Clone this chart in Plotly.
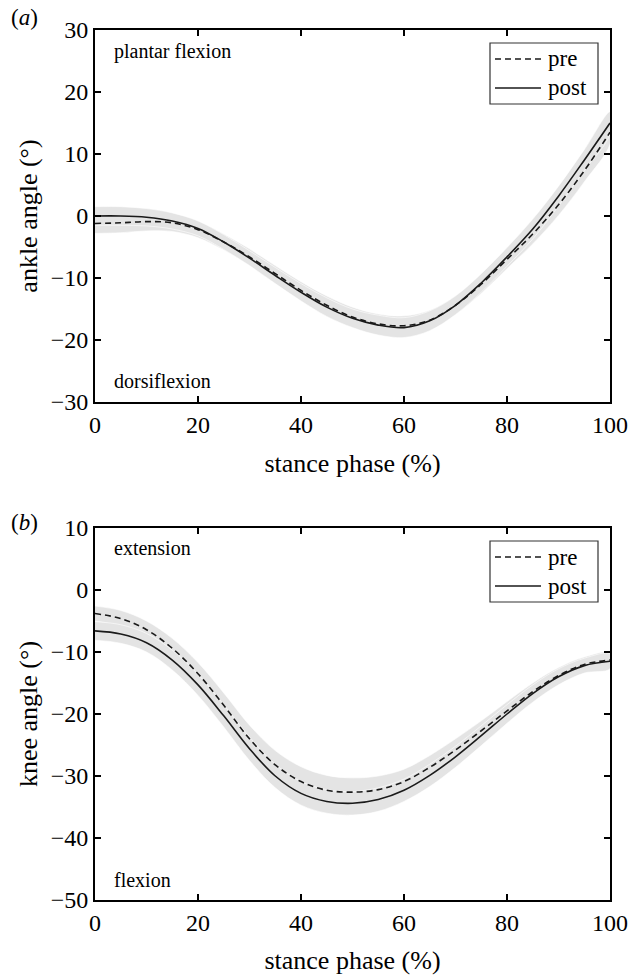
import plotly.graph_objects as go

stance = [0, 5, 10, 15, 20, 25, 30, 35, 40, 45, 50, 55, 60, 65, 70, 75, 80, 85, 90, 95, 100]

ankle_pre = [-1.2, -1.1, -0.9, -1.1, -2.2, -4.2, -6.6, -9.3, -12.0, -14.4, -16.3, -17.4, -17.7,
             -16.8, -14.4, -11.0, -7.0, -2.9, 1.8, 7.3, 13.5]
ankle_post = [0.0, 0.0, -0.2, -0.8, -2.0, -4.2, -6.8, -9.6, -12.3, -14.7, -16.5, -17.6, -18.0,
              -16.9, -14.4, -10.8, -6.6, -2.1, 3.2, 9.0, 15.0]
ankle_pre_sd = [1.6, 1.6, 1.5, 1.4, 1.3, 1.3, 1.3, 1.3, 1.4, 1.5, 1.6, 1.6, 1.6,
                1.6, 1.5, 1.5, 1.5, 1.6, 1.7, 1.8, 1.9]
ankle_post_sd = [1.5, 1.5, 1.4, 1.3, 1.2, 1.2, 1.2, 1.3, 1.4, 1.5, 1.5, 1.6, 1.6,
                 1.6, 1.5, 1.5, 1.5, 1.6, 1.6, 1.7, 1.8]

knee_pre = [-3.8, -4.6, -6.4, -9.4, -13.5, -18.6, -24.0, -28.2, -30.9, -32.3, -32.6, -32.2, -30.9,
            -28.6, -25.8, -22.7, -19.5, -16.4, -13.8, -12.0, -11.3]
knee_post = [-6.6, -7.1, -8.5, -11.3, -15.3, -20.3, -25.6, -30.0, -32.8, -34.1, -34.4, -33.8, -32.3,
             -29.9, -26.9, -23.5, -20.0, -16.7, -14.0, -12.2, -11.5]
knee_pre_sd = [1.2, 1.3, 1.4, 1.6, 1.8, 2.0, 2.2, 2.3, 2.4, 2.4, 2.3, 2.2, 2.0,
               1.9, 1.8, 1.6, 1.5, 1.4, 1.3, 1.2, 1.2]
knee_post_sd = [1.5, 1.5, 1.5, 1.6, 1.7, 1.8, 1.9, 1.9, 1.9, 1.9, 1.9, 1.9, 1.8,
                1.8, 1.7, 1.6, 1.5, 1.4, 1.3, 1.2, 1.2]

x_ticks = [0, 20, 40, 60, 80, 100]
ankle_ticks = [-30, -20, -10, 0, 10, 20, 30]
knee_ticks = [-50, -40, -30, -20, -10, 0, 10]
series_names = ["pre", "post"]

FONT = "Liberation Serif"
BAND = "#e4e4e4"
LINE = "#1a1a1a"
DASH = "6px,4px"

# plot area in pixels
PL, PR, PT, PB = 95, 610, 30, 900
PW, PH = PR - PL, PB - PT


def px(x):
    return (x - PL) / PW


def py(y):
    return (PB - y) / PH


fig = go.Figure()


def add_panel(fig, xa, ya, pre, post, pre_sd, post_sd):
    for mean, sd in ((pre, pre_sd), (post, post_sd)):
        up = [m + s for m, s in zip(mean, sd)]
        lo = [m - s for m, s in zip(mean, sd)]
        fig.add_trace(go.Scatter(
            x=stance + stance[::-1], y=up + lo[::-1], fill="toself",
            fillcolor=BAND, line=dict(color="white", width=0.6, shape="spline"),
            mode="lines", hoverinfo="skip", showlegend=False, xaxis=xa, yaxis=ya))
    fig.add_trace(go.Scatter(x=stance, y=pre, mode="lines", name=series_names[0],
                             line=dict(color=LINE, width=1.6, dash=DASH, shape="spline"),
                             xaxis=xa, yaxis=ya, showlegend=False))
    fig.add_trace(go.Scatter(x=stance, y=post, mode="lines", name=series_names[1],
                             line=dict(color=LINE, width=1.6, shape="spline"),
                             xaxis=xa, yaxis=ya, showlegend=False))


add_panel(fig, "x", "y", ankle_pre, ankle_post, ankle_pre_sd, ankle_post_sd)
add_panel(fig, "x2", "y2", knee_pre, knee_post, knee_pre_sd, knee_post_sd)

axis_common = dict(showline=True, linecolor="black", linewidth=1.8, mirror="ticks",
                   ticks="inside", ticklen=6, tickwidth=1.6, tickcolor="black",
                   showgrid=False, zeroline=False, automargin=False,
                   tickfont=dict(family=FONT, size=24, color="black"))
title_font = dict(family=FONT, size=26, color="black")

fig.update_layout(
    width=629, height=975,
    margin=dict(l=PL, r=629 - PR, t=PT, b=975 - PB, pad=0),
    paper_bgcolor="white", plot_bgcolor="white",
    showlegend=False,
    xaxis=dict(domain=[0, 1], range=[0, 100], tickvals=x_ticks, anchor="y",
               title=dict(text="stance phase (%)", font=title_font, standoff=17),
               **axis_common),
    yaxis=dict(domain=[py(402), py(30)], range=[-30, 30], tickvals=ankle_ticks, anchor="x",
               title=dict(text="ankle angle (°)", font=title_font, standoff=6),
               **axis_common),
    xaxis2=dict(domain=[0, 1], range=[0, 100], tickvals=x_ticks, anchor="y2",
                title=dict(text="stance phase (%)", font=title_font, standoff=17),
                **axis_common),
    yaxis2=dict(domain=[py(900), py(528)], range=[-50, 10], tickvals=knee_ticks, anchor="x2",
                title=dict(text="knee angle (°)", font=title_font, standoff=6),
                **axis_common),
)

ann_font = dict(family=FONT, size=20, color="black")
labels = [
    ("plantar flexion", "x", "y", 3.3, 26.5),
    ("dorsiflexion", "x", "y", 3.3, -26.6),
    ("extension", "x2", "y2", 3.3, 6.8),
    ("flexion", "x2", "y2", 3.3, -46.8),
]
for text, xr, yr, xv, yv in labels:
    fig.add_annotation(text=text, xref=xr, yref=yr, x=xv, y=yv, xanchor="left",
                       yanchor="middle", showarrow=False, font=ann_font)

panel_font = dict(family=FONT, size=23, color="black")
fig.add_annotation(text="(<i>a</i>)", xref="paper", yref="paper", x=px(9), y=py(18),
                   xanchor="left", yanchor="middle", showarrow=False, font=panel_font)
fig.add_annotation(text="(<i>b</i>)", xref="paper", yref="paper", x=px(9), y=py(522),
                   xanchor="left", yanchor="middle", showarrow=False, font=panel_font)

# legend boxes (drawn in paper coordinates)
leg_font = dict(family=FONT, size=23, color="black")
for top in (43, 541):
    fig.add_shape(type="rect", xref="paper", yref="paper", x0=px(490), x1=px(598),
                  y0=py(top + 61), y1=py(top), line=dict(color="#333", width=1.2),
                  fillcolor="white")
    rows = [(top + 16, series_names[0], DASH), (top + 45, series_names[1], "solid")]
    for yy, name, dash in rows:
        fig.add_shape(type="line", xref="paper", yref="paper", x0=px(495), x1=px(541),
                      y0=py(yy), y1=py(yy), line=dict(color=LINE, width=1.6, dash=dash))
        fig.add_annotation(text=name, xref="paper", yref="paper", x=px(546), y=py(yy),
                           xanchor="left", yanchor="middle", showarrow=False, font=leg_font)

fig.write_html("out.html", config={"displayModeBar": False},
               post_script="document.body.style.margin='0';document.body.style.overflow='hidden';")
